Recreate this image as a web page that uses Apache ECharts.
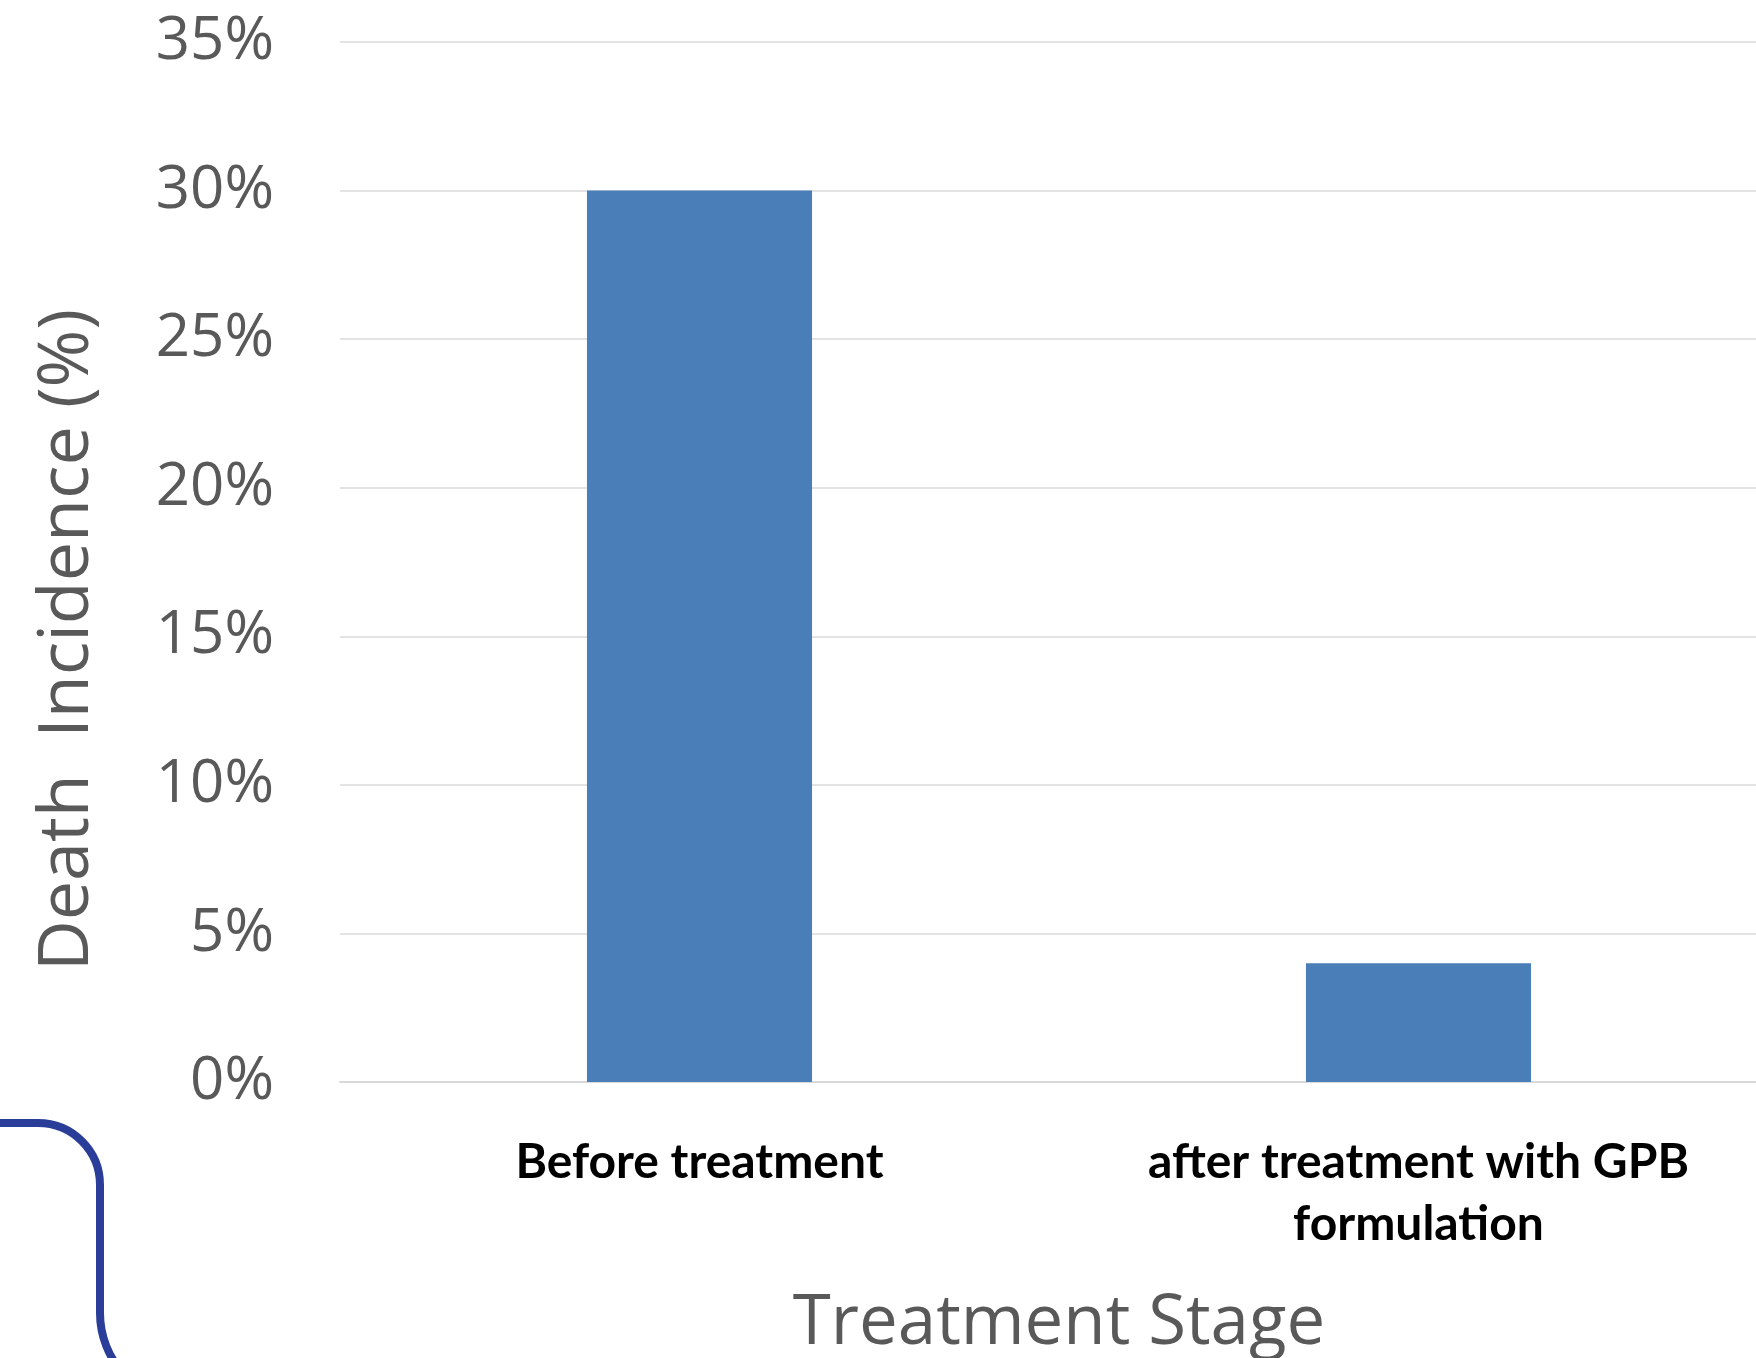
<!DOCTYPE html>
<html>
<head>
<meta charset="utf-8">
<title>Death Incidence by Treatment Stage</title>
<script src="https://cdn.jsdelivr.net/npm/echarts@6/dist/echarts.min.js"></script>
<style>
  html, body { margin: 0; padding: 0; background: #ffffff; overflow: hidden; }
  #chart { width: 1756px; height: 1358px; }
</style>
</head>
<body>
<div id="chart"></div>
<script>
// Treatment stages and death incidence (%)
const stages = ['Before treatment', 'after treatment with GPB\nformulation'];
const deathIncidence = [30, 4];
// Y axis range and step (%)
const yMin = 0;
const yMax = 35;
const yStep = 5;

const chart = echarts.init(document.getElementById('chart'), null, { renderer: 'canvas' });

// rounded tab outline in the lower-left corner
const tabStroke = { fill: null, stroke: '#2a3d98', lineWidth: 8 };

chart.setOption({
  animation: false,
  backgroundColor: '#ffffff',
  // the plot area runs slightly past the right edge of the canvas
  grid: { left: 340, top: 42, width: 1438, height: 1040, containLabel: false, outerBoundsMode: 'none' },
  xAxis: {
    type: 'category',
    data: stages,
    name: 'Treatment Stage',
    nameLocation: 'middle',
    nameGap: 208,
    nameTextStyle: { fontFamily: 'Open Sans', fontSize: 69, color: '#595959' },
    axisLine: { show: true, lineStyle: { color: '#d9d9d9', width: 2 } },
    axisTick: { show: false },
    axisLabel: {
      interval: 0,
      margin: 50,
      fontFamily: 'Lato',
      fontWeight: 'bold',
      fontSize: 48,
      lineHeight: 62,
      color: '#000000'
    }
  },
  yAxis: {
    type: 'value',
    min: yMin,
    max: yMax,
    interval: yStep,
    name: 'Death  Incidence (%)',
    nameLocation: 'middle',
    nameGap: 237,
    nameRotate: 90,
    nameTextStyle: {
      fontFamily: 'Open Sans',
      fontSize: 70,
      color: '#595959',
      padding: [0, 156, 0, 0]
    },
    axisLine: { show: false },
    axisTick: { show: false },
    axisLabel: {
      formatter: '{value}%',
      margin: 66,
      fontFamily: 'Open Sans',
      fontSize: 60,
      color: '#595959'
    },
    splitLine: { show: true, lineStyle: { color: '#e3e3e3', width: 2 } }
  },
  series: [{
    type: 'bar',
    data: deathIncidence,
    barWidth: '31.3%',
    itemStyle: { color: '#4a7eb8' }
  }],
  graphic: [
    { type: 'line', silent: true, shape: { x1: -20, y1: 1123, x2: 38, y2: 1123 }, style: tabStroke },
    { type: 'arc', silent: true, shape: { cx: 38, cy: 1185, r: 62, startAngle: -Math.PI / 2, endAngle: 0, clockwise: true }, style: tabStroke },
    { type: 'line', silent: true, shape: { x1: 100, y1: 1185, x2: 100, y2: 1313 }, style: tabStroke },
    { type: 'arc', silent: true, shape: { cx: 190, cy: 1313, r: 90, startAngle: Math.PI / 2, endAngle: Math.PI, clockwise: true }, style: tabStroke }
  ]
});
</script>
</body>
</html>
